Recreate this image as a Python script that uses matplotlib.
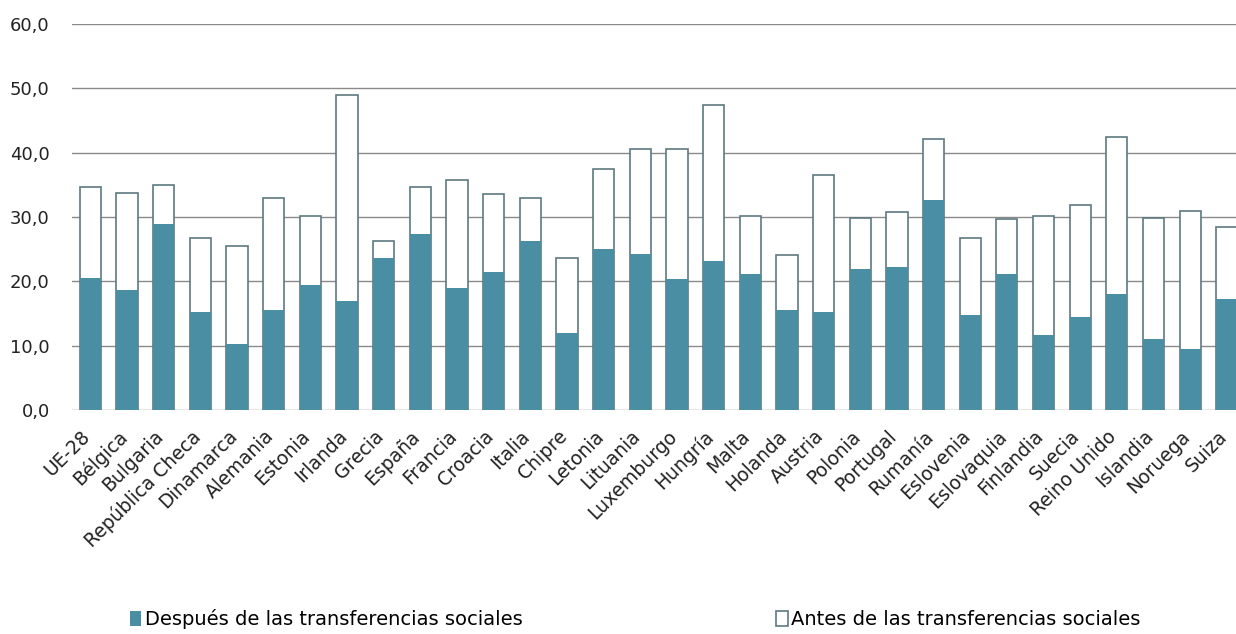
import numpy as np
import matplotlib.pyplot as plt
from matplotlib.ticker import FuncFormatter
from matplotlib.transforms import ScaledTranslation

# Datos: tasa de riesgo de pobreza antes y después de las transferencias sociales
paises = ["UE-28", "Bélgica", "Bulgaria", "República Checa", "Dinamarca", "Alemania",
          "Estonia", "Irlanda", "Grecia", "España", "Francia", "Croacia", "Italia",
          "Chipre", "Letonia", "Lituania", "Luxemburgo", "Hungría", "Malta", "Holanda",
          "Austria", "Polonia", "Portugal", "Rumanía", "Eslovenia", "Eslovaquia",
          "Finlandia", "Suecia", "Reino Unido", "Islandia", "Noruega", "Suiza"]
despues = [20.5, 18.7, 28.9, 15.2, 10.3, 15.6, 19.5, 17.0, 23.6, 27.3, 18.9, 21.4, 26.3,
           11.9, 25.0, 24.2, 20.3, 23.1, 21.1, 15.6, 15.2, 21.9, 22.2, 32.7, 14.7, 21.1,
           11.7, 14.4, 18.1, 11.0, 9.5, 17.2]
antes = [34.6, 33.8, 34.9, 26.8, 25.5, 32.9, 30.2, 49.0, 26.2, 34.6, 35.7, 33.5, 32.9,
         23.7, 37.4, 40.5, 40.5, 47.4, 30.2, 24.1, 36.6, 29.9, 30.7, 42.1, 26.8, 29.7,
         30.2, 31.9, 42.4, 29.9, 31.0, 28.5]

color_despues = "#4a8ea3"
color_borde = "#5d7a80"

plt.rcParams['font.family'] = ['DejaVu Sans']

fig = plt.figure(figsize=(12.36, 6.34), dpi=100)
ax = fig.add_axes([72 / 1236, 1 - 410 / 634, 1 - 72 / 1236, (410 - 24) / 634])

x = np.arange(len(paises))
ancho = 0.58
ax.bar(x, antes, ancho, color="white", edgecolor=color_borde, linewidth=1.2,
       label="Antes de las transferencias sociales", zorder=2)
ax.bar(x, despues, ancho, color=color_despues, edgecolor="none",
       label="Después de las transferencias sociales", zorder=3)

ax.set_ylim(0, 60)
ax.set_xlim(-0.5, 31.25)
ax.set_yticks(np.arange(0, 61, 10))
ax.yaxis.set_major_formatter(FuncFormatter(lambda v, p: f"{v:.1f}".replace(".", ",")))
ax.grid(axis="y", color="#8a8a8a", linewidth=1.0, zorder=0)
ax.set_axisbelow(True)
for s in ax.spines.values():
    s.set_visible(False)
ax.tick_params(axis="both", length=0, colors="#222222")
ax.tick_params(axis="y", pad=16, labelsize=13)
ax.tick_params(axis="x", pad=12)

ax.set_xticks(x)
ax.set_xticklabels(paises, rotation=45, ha="right", rotation_mode="anchor", fontsize=13.5)
desplaz = ScaledTranslation(-7 / 72, 0, fig.dpi_scale_trans)
for lbl in ax.get_xticklabels():
    lbl.set_transform(lbl.get_transform() + desplaz)

handles, labels = ax.get_legend_handles_labels()
leg = fig.legend(handles[::-1], labels[::-1], loc="lower center", ncol=2,
                 bbox_to_anchor=(0.514, -0.02), frameon=False, fontsize=14,
                 handlelength=0.6, handleheight=0.8, handletextpad=0.2,
                 columnspacing=13)

fig.savefig("out.png", dpi=100)
